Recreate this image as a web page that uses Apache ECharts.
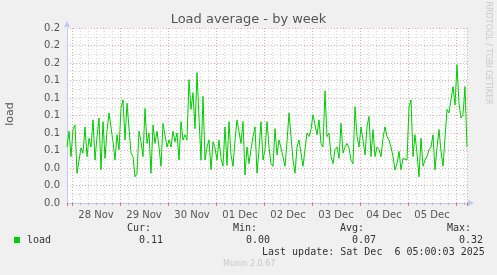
<!DOCTYPE html>
<html><head><meta charset="utf-8">
<script src="https://cdn.jsdelivr.net/npm/echarts@6/dist/echarts.min.js"></script>
<style>html,body{margin:0;padding:0;background:#f0f0f0}#c{width:497px;height:275px}</style>
</head><body><div id="c"></div>
<script>
// hourly load samples, starting Nov 27 21:30
var loadValues = [
0.064,0.082,0.053,0.084,0.089,0.034,0.032,0.063,0.057,0.087,
0.053,0.074,0.064,0.095,0.049,0.076,0.097,0.038,0.093,0.051,
0.082,0.103,0.103,0.070,0.049,0.078,0.061,0.108,0.118,0.072,
0.114,0.116,0.057,0.053,0.030,0.034,0.082,0.070,0.053,0.108,
0.068,0.080,0.034,0.089,0.068,0.082,0.064,0.042,0.091,0.093,
0.064,0.072,0.064,0.082,0.070,0.080,0.049,0.093,0.072,0.078,
0.072,0.141,0.107,0.126,0.085,0.149,0.097,0.049,0.122,0.049,
0.064,0.072,0.038,0.070,0.063,0.049,0.072,0.051,0.042,0.087,
0.043,0.093,0.055,0.042,0.072,0.095,0.097,0.068,0.093,0.032,
0.064,0.045,0.061,0.076,0.087,0.034,0.061,0.093,0.049,0.061,
0.093,0.064,0.045,0.042,0.085,0.055,0.072,0.063,0.064,0.042,
0.070,0.103,0.076,0.049,0.034,0.064,0.072,0.074,0.042,0.061,
0.080,0.076,0.084,0.101,0.099,0.078,0.095,0.068,0.064,0.128,
0.076,0.080,0.053,0.045,0.061,0.064,0.051,0.091,0.057,0.064,
0.068,0.063,0.049,0.045,0.110,0.076,0.064,0.087,0.072,0.055,
0.087,0.099,0.053,0.084,0.053,0.064,0.061,0.053,0.074,0.087,
0.076,0.072,0.064,0.053,0.038,0.045,0.059,0.038,0.051,0.053,
0.049,0.110,0.118,0.053,0.078,0.057,0.030,0.074,0.042,0.049,
0.053,0.061,0.064,0.078,0.038,0.063,0.084,0.059,0.042,0.074,
0.107,0.103,0.105,0.133,0.112,0.158,0.114,0.097,0.101,0.133,
0.064
];
var yTicks = [0,0.02,0.04,0.06,0.08,0.10,0.12,0.14,0.16,0.18,0.20];
var monthNames = ['Jan','Feb','Mar','Apr','May','Jun','Jul','Aug','Sep','Oct','Nov','Dec'];
var legendName = 'load';
var statLabels = ['Cur:','Min:','Avg:','Max:'];
var statValues = ['0.11','0.00','0.07','0.32'];
var lastUpdate = 'Last update: Sat Dec  6 05:00:03 2025';

var H = 3600*1000;
var T0 = new Date(2025,10,27,21,30).getTime();
var T1 = T0 + 200*H;
var seriesData = loadValues.map(function(v,i){return [T0+i*H, v];});

var chart = echarts.init(document.getElementById('c'), null, {renderer:'canvas'});
var mono = 'DejaVu Sans Mono';
var sans = 'DejaVu Sans';
var axisBlue = '#c0c8f6';
function pad(n){return (n<10?'0':'')+n;}
var gfx = [
  {type:'text', left:'center', top:13, style:{text:'Load average - by week', font:'13px '+sans, fill:'#555'}},
  {type:'text', x:10, y:114, rotation:Math.PI/2, style:{text:'load', font:'11px '+sans, fill:'#555', align:'center', verticalAlign:'middle'}},
  {type:'text', x:488, y:53, rotation:-Math.PI/2, style:{text:'RRDTOOL / TOBI OETIKER', font:'8px '+sans, fill:'#c8c8c8', align:'center', verticalAlign:'middle'}},
  {type:'rect', shape:{x:14,y:237,width:6,height:6}, style:{fill:'#00cc00'}},
  {type:'text', x:27, y:240, style:{text:legendName, font:'10px '+mono, fill:'#333', verticalAlign:'middle'}},
  {type:'text', x:262, y:252, style:{text:lastUpdate, font:'10px '+mono, fill:'#333', verticalAlign:'middle'}},
  {type:'text', x:223, y:264, style:{text:'Munin 2.0.67', font:'8px '+sans, fill:'#c8c8c8', verticalAlign:'middle'}}
];
var labelX = [127,233,340,447];
var valRight = [163,270,376,483];
for (var k=0;k<4;k++){
  gfx.push({type:'text', x:labelX[k], y:228, style:{text:statLabels[k], font:'10px '+mono, fill:'#333', verticalAlign:'middle'}});
  gfx.push({type:'text', x:valRight[k], y:240, style:{text:statValues[k], font:'10px '+mono, fill:'#333', align:'right', verticalAlign:'middle'}});
}

chart.setOption({
  backgroundColor:'#f0f0f0',
  animation:false,
  grid:{left:67, right:30, top:28, bottom:72, show:true, backgroundColor:'#ffffff', borderWidth:0},
  xAxis:[
    {type:'time', position:'bottom', offset:0, min:T0, max:T1, gridIndex:0, splitNumber:33, minInterval:6*H, maxInterval:6*H,
     axisLine:{show:false, onZero:false}, axisTick:{show:true, length:2, lineStyle:{color:'#bbbbbb'}}, axisLabel:{show:false},
     splitLine:{show:true, lineStyle:{color:'#d8d8d8', type:[1,2], width:1}}},
    {type:'time', position:'bottom', offset:0, min:T0, max:T1, gridIndex:0, splitNumber:8, minInterval:24*H, maxInterval:24*H,
     axisLine:{show:true, onZero:false, lineStyle:{color:axisBlue}, symbol:['none','triangle'], symbolSize:[6,6], symbolOffset:[0,4]},
     axisTick:{show:true, length:3, lineStyle:{color:'#e07070'}}, axisLabel:{show:false},
     splitLine:{show:true, lineStyle:{color:'#eaa8a8', type:[1,2], width:1}}},
    {type:'time', position:'bottom', offset:0, min:T0-12*H, max:T1-12*H, gridIndex:0, splitNumber:8, minInterval:24*H, maxInterval:24*H,
     axisLine:{show:false, onZero:false}, axisTick:{show:false}, splitLine:{show:false},
     axisLabel:{show:true, color:'#555', fontFamily:sans, fontSize:10, margin:7, showMinLabel:false, showMaxLabel:false,
       formatter:function(v){var d=new Date(v); return pad(d.getDate())+' '+monthNames[d.getMonth()];}}}
  ],
  yAxis:{type:'value', min:yTicks[0], max:yTicks[yTicks.length-1], interval:0.02,
    axisLine:{show:true, lineStyle:{color:axisBlue}, symbol:['none','triangle'], symbolSize:[6,6], symbolOffset:[0,4]},
    axisTick:{show:false},
    axisLabel:{color:'#555', fontFamily:sans, fontSize:10, margin:7, formatter:function(v){return v.toFixed(1);}},
    splitLine:{show:true, lineStyle:{color:'#eaa8a8', type:[1,2], width:1}},
    minorTick:{show:false, splitNumber:2},
    minorSplitLine:{show:true, lineStyle:{color:'#d8d8d8', type:[1,2], width:1}}},
  series:[{type:'line', xAxisIndex:1, data:seriesData, showSymbol:false, symbol:'none',
    lineStyle:{color:'#00cc00', width:1}, z:5}],
  graphic:gfx
});
</script></body></html>
